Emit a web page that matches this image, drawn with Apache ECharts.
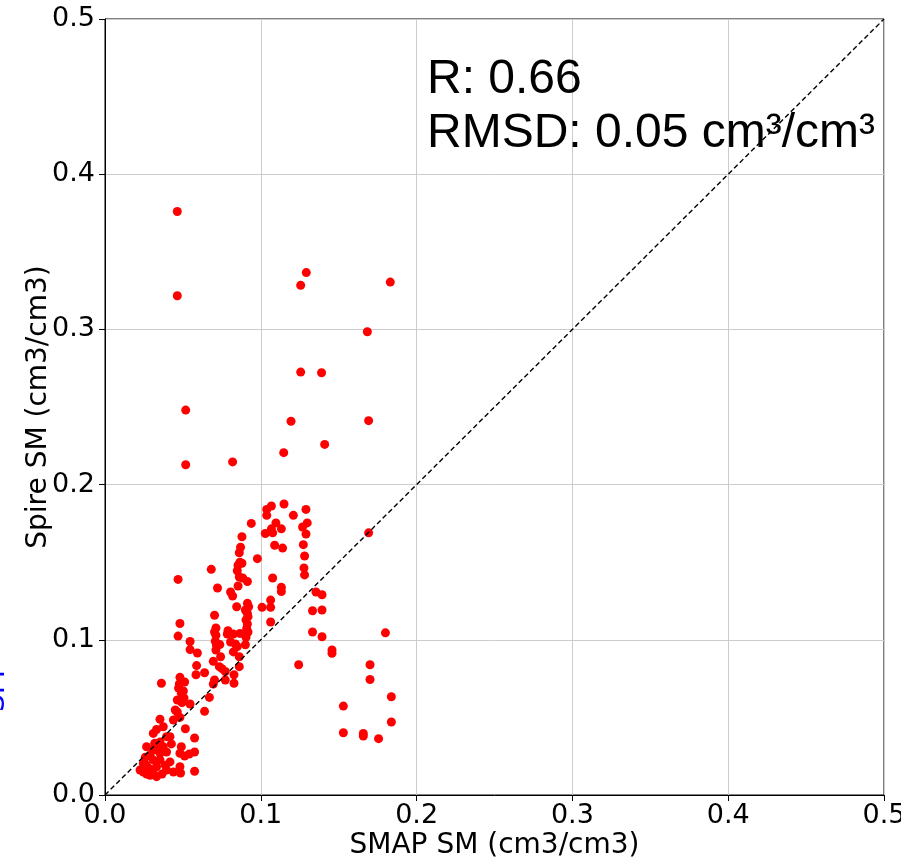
<!DOCTYPE html>
<html>
<head>
<meta charset="utf-8">
<script src="https://cdn.jsdelivr.net/npm/echarts@6/dist/echarts.min.js"></script>
<style>html,body{margin:0;padding:0;background:#fff;}#c{width:901px;height:861px;}</style>
</head>
<body>
<div id="c"></div>
<script>
const xTicks = [0.0, 0.1, 0.2, 0.3, 0.4, 0.5];
const yTicks = [0.0, 0.1, 0.2, 0.3, 0.4, 0.5];
const diagX = [0, 0.5];
const diagY = [0, 0.5];
const statsLines = ['R: 0.66', 'RMSD: 0.05 cm³/cm³'];
const smapX = [
0.0464,0.0464,0.1292,0.1256,0.1831,0.1684,0.1256,0.139,0.0518,0.1194,0.1692,0.141,0.1147,0.0518,0.0819,
0.1038,0.1068,0.1149,0.1209,0.129,0.1038,0.0939,0.1097,0.1298,0.1268,0.1068,0.1132,0.1029,0.1076,0.129,0.0879,0.1089,0.114,0.1273,0.087,0.0862,0.1281,0.0978,0.0866,0.0879,0.0854,0.0682,0.1277,0.0849,0.0862,0.0884,0.1281,0.1076,0.0914,0.0854,0.0722,0.1132,0.1132,0.0806,0.0819,0.1354,0.1393,0.1063,
0.0914,0.0922,0.0901,0.0914,0.0918,0.0905,0.0914,0.0909,0.0918,0.0905,0.0901,
0.0845,0.1008,0.1063,0.1332,0.1393,0.0703,0.1063,
0.0712,0.0703,0.0712,0.0708,0.0716,0.0737,0.0712,
0.0789,0.0785,0.0824,0.0806,0.0837,0.0866,0.1332,0.1393,0.18,0.0849,0.0824,0.1457,0.1457,0.0742,0.0695,0.0734,0.0751,0.0862,0.0862,0.1243,0.1701,0.1701,0.0639,0.0772,0.0772,0.0828,0.0828,0.0703,0.0695,0.067,0.1838,0.0639,0.153,0.1838,0.153,0.1658,0.1658,0.1756,0.1692,
0.0469,0.0481,0.0469,0.0546,0.0546,0.0593,0.0588,0.0584,0.0362,0.0481,0.0511,0.0472,0.049,0.0464,0.0494,0.0451,0.0481,0.0439,0.0546,0.0516,0.0575,0.0575,0.0575,
0.0353,0.0374,0.0331,0.031,0.0395,0.0417,0.0267,0.0319,0.0353,0.0426,0.049,0.031,0.0353,0.0395,0.0259,0.031,0.0353,0.0417,0.0481,0.0511,0.0541,0.0481,0.0439,0.0485,0.0225,0.0246,0.0267,0.0289,0.031,0.0331,0.0366,0.0395,0.0267,0.0289,0.0387,0.0331,0.0246,0.0289,0.0331,0.0374,
0.0503,0.0477,0.0507,0.0464
];
const spireY = [
0.376,0.3217,0.3366,0.3284,0.3305,0.2985,0.2725,0.2721,0.248,0.2408,0.2412,0.2259,0.2206,0.2128,0.2146,
0.184,0.1862,0.1875,0.1802,0.184,0.1802,0.175,0.1753,0.1753,0.1727,0.1715,0.1715,0.1685,0.1689,0.1682,0.1664,0.1609,0.1591,0.1613,0.1596,0.1561,0.154,0.1523,0.15,0.1493,0.148,0.1454,0.1463,0.1445,0.1405,0.1398,0.1418,0.1398,0.1376,0.1347,0.1334,0.1338,0.1311,0.1308,0.1282,0.1308,0.129,0.1256,
0.1235,0.1213,0.1192,0.117,0.1149,0.1128,0.1102,0.1072,0.105,0.1016,0.0968,
0.1213,0.1209,0.1209,0.1187,0.1192,0.1158,0.1115,
0.1076,0.105,0.1029,0.0991,0.0965,0.0969,0.0934,
0.1059,0.1037,0.1037,0.0986,0.0973,0.1041,0.105,0.102,0.1045,0.0956,0.0922,0.0934,0.0913,0.0891,0.0861,0.0827,0.0814,0.0891,0.0827,0.0839,0.0839,0.0744,0.0788,0.0796,0.0741,0.0775,0.072,0.0741,0.0715,0.0629,0.0633,0.0539,0.0573,0.047,0.0401,0.0397,0.038,0.0363,0.1689,
0.1389,0.1105,0.1024,0.0989,0.0937,0.0915,0.0834,0.0775,0.072,0.0758,0.0728,0.0689,0.0655,0.0612,0.0595,0.0548,0.05,0.0483,0.0586,0.0427,0.0367,0.0277,0.0153,
0.0488,0.044,0.0422,0.0397,0.0376,0.0376,0.0311,0.0333,0.0341,0.0329,0.0311,0.029,0.0269,0.0277,0.0243,0.0226,0.0226,0.0213,0.0269,0.0251,0.0264,0.0182,0.0148,0.0142,0.0161,0.0148,0.0135,0.0127,0.014,0.0118,0.0135,0.0161,0.0191,0.0168,0.0191,0.0182,0.0203,0.0256,0.0298,0.0311,
0.067,0.0715,0.0625,0.0535
];

const scatterData = smapX.map((x, i) => [x, spireY[i]]);
const diagData = diagX.map((x, i) => [x, diagY[i]]);
const tickFmt = v => {
  const s = v.toFixed(1);
  return xTicks.some(t => t.toFixed(1) === s) ? s : '';
};

const chart = echarts.init(document.getElementById('c'), null, {renderer: 'canvas'});
const tickFont = {fontFamily: 'DejaVu Sans', fontSize: 27, color: '#000'};
const nameFont = {fontFamily: 'DejaVu Sans', fontSize: 28, color: '#000'};
chart.setOption({
  animation: false,
  backgroundColor: '#fff',
  grid: {left: 105, top: 19, right: 17, bottom: 66, show: true, borderColor: '#000', borderWidth: 1, backgroundColor: 'transparent', outerBoundsMode: 'none', containLabel: false},
  xAxis: {
    type: 'value', min: 0, max: 0.5, interval: 0.1,
    name: 'SMAP SM (cm3/cm3)', nameLocation: 'middle', nameGap: 37, nameMoveOverlap: false,
    nameTextStyle: nameFont,
    axisLine: {show: true, onZero: false, lineStyle: {color: '#000', width: 1}},
    axisTick: {show: true, length: 6, lineStyle: {color: '#000'}},
    axisLabel: Object.assign({margin: 7, formatter: tickFmt, showMaxLabel: true, showMinLabel: true}, tickFont),
    splitLine: {show: true, lineStyle: {color: '#cccccc', width: 1}}
  },
  yAxis: {
    type: 'value', min: 0, max: 0.5, interval: 0.1,
    name: 'Spire SM (cm3/cm3)', nameLocation: 'middle', nameGap: 52, nameMoveOverlap: false,
    nameTextStyle: nameFont,
    axisLine: {show: true, onZero: false, lineStyle: {color: '#000', width: 1}},
    axisTick: {show: true, length: 6, lineStyle: {color: '#000'}},
    axisLabel: Object.assign({margin: 10, formatter: tickFmt, showMaxLabel: true, showMinLabel: true}, tickFont),
    splitLine: {show: true, lineStyle: {color: '#cccccc', width: 1}}
  },
  series: [
    {
      type: 'scatter', data: scatterData, symbol: 'circle', symbolSize: 9,
      itemStyle: {color: '#ff0000', opacity: 1}, z: 3
    },
    {
      type: 'line', data: diagData, symbol: 'none', z: 4,
      lineStyle: {color: '#000', width: 1.4, type: [5, 3]}
    }
  ],
  graphic: [
    {type: 'text', left: 427, top: 56, z: 10, style: {text: statsLines[0], font: '48px "Liberation Sans"', fill: '#000'}},
    {type: 'text', left: 427, top: 110, z: 10, style: {text: statsLines[1], font: '48px "Liberation Sans"', fill: '#000'}},
    {type: 'text', x: -17, y: 712, rotation: Math.PI / 2, z: 10, style: {text: 'SM', font: '28px "DejaVu Sans"', fill: '#0000ff'}}
  ]
});
</script>
</body>
</html>
